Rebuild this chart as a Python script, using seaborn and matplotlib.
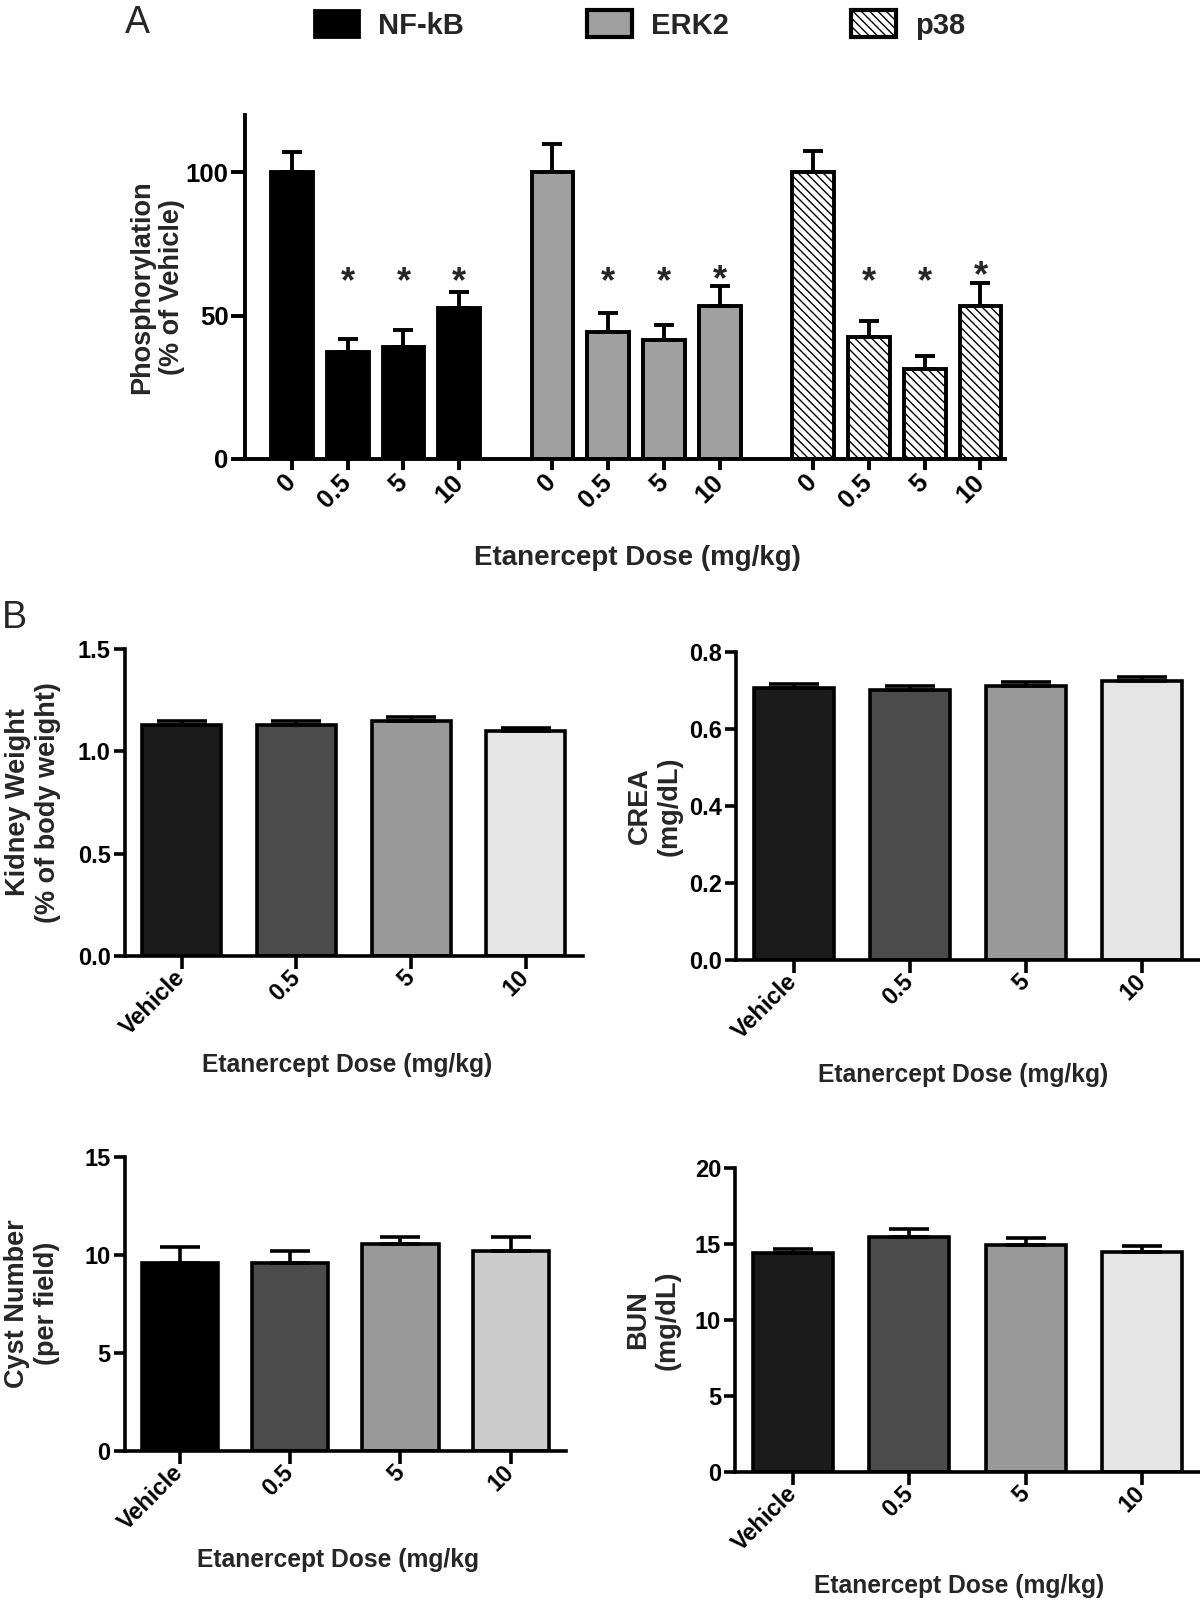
import numpy as np
import pandas as pd
import matplotlib
matplotlib.use("Agg")
import matplotlib.pyplot as plt
from matplotlib.patches import Patch
import seaborn as sns

# ---------------- data ----------------
proteins = ["NF-kB", "ERK2", "p38"]
doses_a = ["0", "0.5", "5", "10"]
nfkb_mean = [100.0, 37.4, 39.2, 52.8]
nfkb_sem = [7.0, 4.6, 5.8, 5.3]
erk2_mean = [100.0, 44.4, 41.6, 53.5]
erk2_sem = [10.0, 6.6, 5.2, 6.7]
p38_mean = [100.0, 42.7, 31.5, 53.2]
p38_sem = [7.3, 5.5, 4.5, 8.3]
significant = [False, True, True, True]
a_yticks = [0, 50, 100]

doses_b = ["Vehicle", "0.5", "5", "10"]
kidney_mean = [1.13, 1.13, 1.15, 1.10]
kidney_sem = [0.020, 0.020, 0.018, 0.016]
crea_mean = [0.706, 0.701, 0.712, 0.725]
crea_sem = [0.009, 0.009, 0.010, 0.009]
cyst_mean = [9.59, 9.59, 10.53, 10.20]
cyst_sem = [0.79, 0.61, 0.39, 0.68]
bun_mean = [14.37, 15.43, 14.90, 14.46]
bun_sem = [0.29, 0.52, 0.48, 0.41]

kidney_ticks = [0.0, 0.5, 1.0, 1.5]
kidney_ticklabels = ["0.0", "0.5", "1.0", "1.5"]
crea_ticks = [0.0, 0.2, 0.4, 0.6, 0.8]
crea_ticklabels = ["0.0", "0.2", "0.4", "0.6", "0.8"]
cyst_ticks = [0, 5, 10, 15]
cyst_ticklabels = ["0", "5", "10", "15"]
bun_ticks = [0, 5, 10, 15, 20]
bun_ticklabels = ["0", "5", "10", "15", "20"]

# ---------------- style ----------------
sns.set_style("ticks")
plt.rcParams["font.family"] = ["Liberation Sans", "DejaVu Sans"]
plt.rcParams["font.weight"] = "bold"
plt.rcParams["axes.labelweight"] = "bold"
plt.rcParams["hatch.linewidth"] = 1.0
plt.rcParams["hatch.color"] = "black"

W, H = 1200, 1600
fig = plt.figure(figsize=(12, 16), dpi=100)


def rect(left, top, right, bottom):
    return [left / W, 1 - bottom / H, (right - left) / W, (bottom - top) / H]


def style_axes(ax, lw, labelsize, xlen, ylen, xpad=4):
    for side in ["top", "right"]:
        ax.spines[side].set_visible(False)
    for side in ["left", "bottom"]:
        ax.spines[side].set_linewidth(lw)
        ax.spines[side].set_color("black")
    ax.tick_params(axis="x", direction="out", length=xlen, width=lw, colors="black",
                   labelsize=labelsize, pad=xpad)
    ax.tick_params(axis="y", direction="out", length=ylen, width=lw, colors="black",
                   labelsize=labelsize, pad=2)


# ---------------- Panel A ----------------
colors_a = {"NF-kB": "black", "ERK2": "#a0a0a0", "p38": "white"}
group_step = 4.67
rows = []
for g, (name, m, s) in enumerate(zip(proteins, [nfkb_mean, erk2_mean, p38_mean],
                                     [nfkb_sem, erk2_sem, p38_sem])):
    for i, d in enumerate(doses_a):
        rows.append(dict(protein=name, dose=d, pos=g * group_step + i,
                         mean=m[i], sem=s[i], sig=significant[i]))
dfa = pd.DataFrame(rows)

axA = fig.add_axes(rect(245, 115, 1005, 459))
sns.barplot(data=dfa, x="pos", y="mean", hue="protein", hue_order=proteins,
            palette=colors_a, native_scale=True, dodge=False, orient="x",
            width=0.75, edgecolor="black", linewidth=2.8, errorbar=None,
            legend=False, ax=axA)
for bar in axA.containers[2]:
    bar.set_hatch("\\\\\\\\")
axA.errorbar(dfa["pos"], dfa["mean"], yerr=[np.zeros(len(dfa)), dfa["sem"]],
             fmt="none", ecolor="black", elinewidth=2.8, capsize=7.5, capthick=2.8,
             zorder=3)
for _, r in dfa[dfa["sig"]].iterrows():
    ystar = max(65.5, r["mean"] + r["sem"] + 6.0)
    axA.annotate("*", xy=(r["pos"], ystar), xytext=(0, -15), textcoords="offset points",
                 ha="center", va="baseline", fontsize=26, fontweight="bold")
axA.set_xlim(-0.84, 2 * group_step + 3 + 0.44)
axA.set_ylim(0, 120)
axA.set_yticks(a_yticks)
axA.set_yticklabels([str(t) for t in a_yticks])
axA.set_xticks(dfa["pos"])
axA.set_xticklabels(dfa["dose"], rotation=45, ha="right", va="center",
                    rotation_mode="anchor")
style_axes(axA, 2.8, 18.5, 8, 10, xpad=6)
axA.set_ylabel("Phosphorylation\n(% of Vehicle)", fontsize=19.5)
axA.yaxis.set_label_coords(-0.079, 0.5)
axA.set_xlabel("Etanercept Dose (mg/kg)", fontsize=20)
axA.xaxis.set_label_coords(0.517, -0.25)

handles = [
    Patch(facecolor="black", edgecolor="black", linewidth=2.0),
    Patch(facecolor="#a0a0a0", edgecolor="black", linewidth=3.0),
    Patch(facecolor="white", edgecolor="black", linewidth=3.0, hatch="\\\\\\\\"),
]
fig.legend(handles, proteins, loc="upper left", bbox_to_anchor=(314 / W, 1 - 10 / H),
           ncol=3, frameon=False, fontsize=21, handlelength=1.55, handleheight=1.07,
           handletextpad=0.65, columnspacing=4.2, borderaxespad=0, borderpad=0)
fig.text(125 / W, 1 - 5 / H, "A", fontsize=27, fontweight="normal", va="top", ha="left")
fig.text(2 / W, 1 - 600 / H, "B", fontsize=27, fontweight="normal", va="top", ha="left")


# ---------------- Panel B ----------------
def panel_b(rct, means, sems, colors, ticks, ticklabels, ylabel, ylab_x, xlabel,
            xlab_xy, capsize):
    ax = fig.add_axes(rct)
    sns.barplot(x=doses_b, y=means, hue=doses_b, palette=colors, legend=False,
                width=0.69, edgecolor="black", linewidth=2.6, errorbar=None, ax=ax)
    xpos = ax.get_xticks()
    ax.errorbar(xpos, means, yerr=[np.zeros(len(means)), sems], fmt="none",
                ecolor="black", elinewidth=2.6, capsize=capsize, capthick=2.6, zorder=3)
    ax.set_xlim(-0.5, len(doses_b) - 0.5)
    ax.set_ylim(ticks[0], ticks[-1])
    ax.set_yticks(ticks)
    ax.set_yticklabels(ticklabels)
    ax.set_xticks(xpos)
    ax.set_xticklabels(doses_b, rotation=45, ha="right", va="center",
                       rotation_mode="anchor")
    style_axes(ax, 2.6, 17, 9, 8)
    ax.set_ylabel(ylabel, fontsize=19.5)
    ax.yaxis.set_label_coords(ylab_x, 0.5)
    ax.set_xlabel(xlabel, fontsize=17.7)
    ax.xaxis.set_label_coords(*xlab_xy)
    return ax


grey4 = ["#1b1b1b", "#4b4b4b", "#999999", "#e5e5e5"]
grey4b = ["#000000", "#4b4b4b", "#999999", "#cccccc"]

panel_b(rect(124.5, 649, 583, 956), kidney_mean, kidney_sem, grey4, kidney_ticks,
        kidney_ticklabels, "Kidney Weight\n(% of body weight)", -0.139,
        "Etanercept Dose (mg/kg)", (0.486, -0.316), 18)
panel_b(rect(736, 651.7, 1200, 960), crea_mean, crea_sem, grey4, crea_ticks,
        crea_ticklabels, "CREA\n(mg/dL)", -0.114,
        "Etanercept Dose (mg/kg)", (0.49, -0.334), 18)
panel_b(rect(124.5, 1156.7, 566, 1450.7), cyst_mean, cyst_sem, grey4b, cyst_ticks,
        cyst_ticklabels, "Cyst Number\n(per field)", -0.146,
        "Etanercept Dose (mg/kg", (0.484, -0.331), 14.4)
panel_b(rect(735, 1167.7, 1200, 1472), bun_mean, bun_sem, grey4, bun_ticks,
        bun_ticklabels, "BUN\n(mg/dL)", -0.116,
        "Etanercept Dose (mg/kg)", (0.482, -0.335), 14.4)

fig.savefig("out.png", dpi=100)
